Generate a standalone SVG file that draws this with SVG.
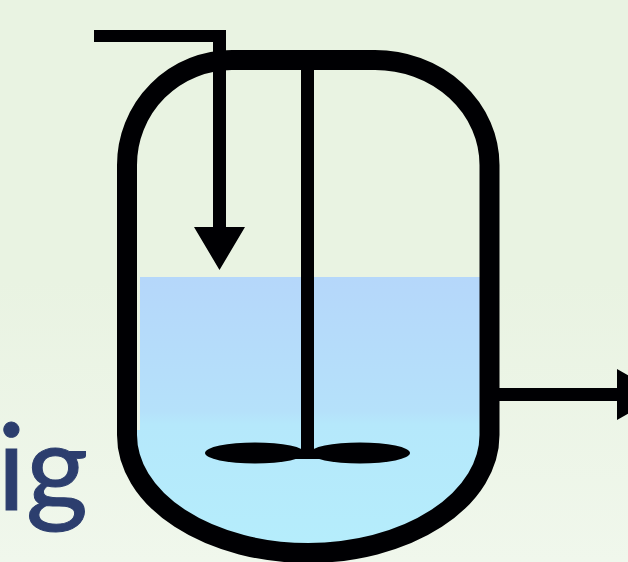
<svg xmlns="http://www.w3.org/2000/svg" width="628" height="562" viewBox="0 0 628 562">
<defs>
<linearGradient id="bg" x1="0" y1="0" x2="0" y2="1"><stop offset="0" stop-color="#e9f3e2"/><stop offset="0.5" stop-color="#e9f3e2"/><stop offset="1" stop-color="#f0f7ec"/></linearGradient>
<linearGradient id="liq" gradientUnits="userSpaceOnUse" x1="0" y1="277" x2="0" y2="545"><stop offset="0" stop-color="#b5d7fa"/><stop offset="0.5" stop-color="#b5e1fa"/><stop offset="0.55" stop-color="#b5e8fb"/><stop offset="1" stop-color="#b5edfc"/></linearGradient>
<style>
.k{fill:#000003}
.wall{fill:none;stroke:#000003;stroke-width:20}
.lbl{font-family:"Lato","Open Sans",sans-serif;font-size:120px;fill:#2c3e6e;stroke:#2c3e6e;stroke-width:1px}
</style>
</defs>
<rect width="628" height="562" fill="url(#bg)"/>
<g id="liquid"><path d="M140 277H482V435A174 112 0 0 1 134 435V430H140Z" fill="url(#liq)"/></g>
<g id="vessel"><path class="wall" d="M127 435V165A105 105 0 0 1 232 60H375A114.500 105 0 0 1 489.500 165V435A181.250 118 0 0 1 127 435Z"/></g>
<g id="agitator">
<rect class="k" x="301" y="65" width="13" height="393"/>
<ellipse class="k" cx="255" cy="453" rx="50" ry="10.500"/>
<ellipse class="k" cx="360" cy="453" rx="50" ry="10.500"/>
<rect class="k" x="295" y="449" width="25" height="10"/>
</g>
<g id="connectors">
<path class="k" d="M94 30H226V227H245L219.500 270L194 227H213V42H94Z"/>
<path class="k" d="M495 388H617V369L662 394.500L617 420V401H495Z"/>
</g>
<g id="label"><text class="lbl" x="-3" y="510">ig</text></g>
</svg>
